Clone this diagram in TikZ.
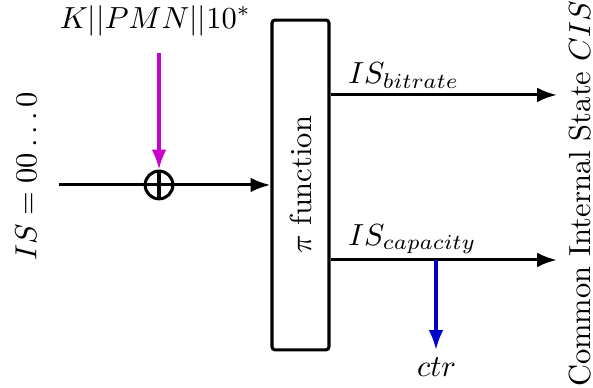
\documentclass[tikz,border=0pt]{standalone}
\usepackage{amsmath,amssymb}
\usepackage{xcolor}
\usepackage{graphicx}
\usepackage{tikz}
\usetikzlibrary{arrows.meta}

\definecolor{keymag}{RGB}{204,0,204}
\definecolor{ctrblue}{RGB}{0,0,204}

\begin{document}
\begin{tikzpicture}[line width=1pt, >={Latex[length=6.5pt,width=4.8pt]}]
\useasboundingbox (0,0) rectangle (6.832,4.470);
\node[draw, rounded corners=1pt, inner sep=0pt, minimum width=0.657cm, minimum height=3.80cm] (pi) at (3.462,2.339) {\rotatebox{90}{$\pi$ function}};
\node[circle, draw, inner sep=0pt, minimum size=0.32cm] (xor) at (1.832,2.339) {};
\coordinate (start) at (0.680,2.339);
\coordinate (keyin) at (1.832,3.859);
\node[anchor=base] (key) at (1.79,4.147) {$K||PMN||10^*$};
\node[rotate=90] (is) at (0.30,2.44) {$IS = 00\ldots0$};

\draw (xor.north) -- (xor.south);
\draw (xor.west) -- (xor.east);
\draw (start) -- (xor.west);
\draw[->] (xor.east) -- (pi.west);
\draw[->, keymag] (keyin) -- (xor.north);

\coordinate (bitout) at (6.417,3.376);
\coordinate (capout) at (6.417,1.475);
\coordinate (tap) at (5.023,1.475);
\coordinate (ctrin) at (5.023,0.438);
\draw[->] (pi.east |- bitout) -- (bitout);
\draw[->] (pi.east |- capout) -- (capout);
\draw[->, ctrblue] (tap) -- (ctrin);
\node[anchor=base west] (bitlbl) at (3.88,3.508) {$IS_{bitrate}$};
\node[anchor=base west] (caplbl) at (3.88,1.647) {$IS_{capacity}$};
\node[anchor=base] (ctr) at (5.03,0.127) {$ctr$};
\node[rotate=90] (cis) at (6.68,2.235) {Common Internal State $CIS$};
\end{tikzpicture}
\end{document}
